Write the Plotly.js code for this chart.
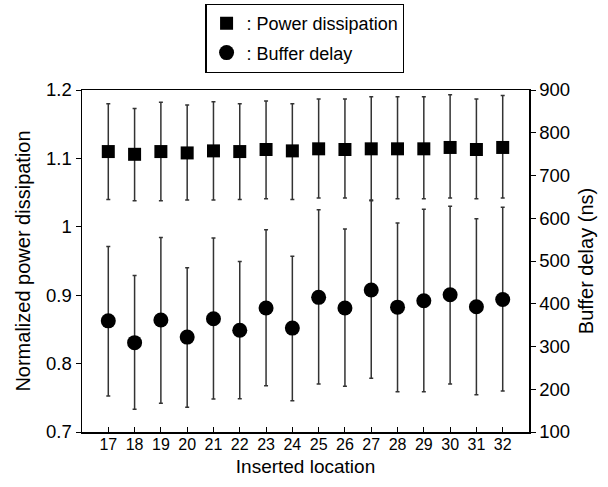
<!DOCTYPE html>
<html>
<head>
<meta charset="utf-8">
<script src="https://cdn.plot.ly/plotly-3.0.1.min.js"></script>
<style>html,body{margin:0;padding:0;background:#fff;}#chart{width:608px;height:487px;}</style>
</head>
<body>
<div id="chart"></div>
<script>
// Inserted locations
const locations = [17, 18, 19, 20, 21, 22, 23, 24, 25, 26, 27, 28, 29, 30, 31, 32];
const tickLabels = ["17","18","19","20","21","22","23","24","25","26","27","28","29","30","31","32"];

// Normalized power dissipation (left axis): mean, upper, lower
const powerMean  = [1.110, 1.106, 1.110, 1.108, 1.111, 1.110, 1.113, 1.111, 1.114, 1.113, 1.114, 1.114, 1.114, 1.116, 1.113, 1.116];
const powerUpper = [1.180, 1.173, 1.182, 1.178, 1.183, 1.180, 1.184, 1.180, 1.187, 1.187, 1.190, 1.190, 1.190, 1.193, 1.187, 1.192];
const powerLower = [1.040, 1.038, 1.038, 1.039, 1.039, 1.040, 1.041, 1.040, 1.042, 1.042, 1.039, 1.041, 1.041, 1.042, 1.041, 1.042];

// Buffer delay in ns (right axis): mean, upper, lower
const delayMean  = [360, 309, 362, 322, 365, 338, 390, 343, 415, 390, 432, 392, 407, 421, 393, 410];
const delayUpper = [534, 466, 555, 484, 554, 499, 573, 511, 620, 575, 641, 589, 621, 628, 599, 626];
const delayLower = [184, 153, 167, 158, 177, 178, 208, 173, 212, 207, 226, 194, 194, 212, 187, 196];

const FONT = "Liberation Sans, Arial, sans-serif";

const powerPlus  = powerUpper.map((u, i) => u - powerMean[i]);
const powerMinus = powerMean.map((m, i) => m - powerLower[i]);
const delayPlus  = delayUpper.map((u, i) => u - delayMean[i]);
const delayMinus = delayMean.map((m, i) => m - delayLower[i]);

const errStyle = {type: "data", symmetric: false, color: "#333", thickness: 1.5, width: 2};

const traces = [
  {
    x: locations, y: powerMean, type: "scatter", mode: "markers",
    name: ": Power dissipation", legendgroup: "a",
    marker: {symbol: "square", size: 13, color: "#000"},
    error_y: Object.assign({array: powerPlus, arrayminus: powerMinus}, errStyle),
    yaxis: "y"
  },
  {
    x: locations, y: delayMean, type: "scatter", mode: "markers",
    name: ": Buffer delay", legendgroup: "b",
    marker: {symbol: "circle", size: 15, color: "#000"},
    error_y: Object.assign({array: delayPlus, arrayminus: delayMinus}, errStyle),
    yaxis: "y2"
  }
];

const layout = {
  width: 608, height: 487,
  margin: {l: 81.5, r: 79, t: 90, b: 55, pad: 0, autoexpand: false},
  paper_bgcolor: "#fff", plot_bgcolor: "#fff",
  font: {family: FONT, size: 18, color: "#000"},
  showlegend: true,
  legend: {
    x: 0.276, xanchor: "left", y: 1.252, yanchor: "top",
    bordercolor: "#000", borderwidth: 1.2, bgcolor: "#fff",
    font: {family: FONT, size: 18, color: "#000"},
    traceorder: "grouped", tracegroupgap: 3,
    itemclick: false
  },
  xaxis: {
    range: [16, 33], tickmode: "array", tickvals: locations, ticktext: tickLabels,
    ticks: "inside", ticklen: 5, tickwidth: 1, tickcolor: "#000",
    showline: true, linecolor: "#000", linewidth: 1.5, mirror: true,
    showgrid: false, zeroline: false,
    tickfont: {family: FONT, size: 16},
    ticklabelstandoff: -3,
    title: {text: "Inserted location", font: {family: FONT, size: 19}, standoff: 8}
  },
  yaxis: {
    range: [0.7, 1.2], tickmode: "array",
    tickvals: [0.7, 0.8, 0.9, 1.0, 1.1, 1.2], ticktext: ["0.7", "0.8", "0.9", "1", "1.1", "1.2"],
    ticks: "outside", ticklen: 5, tickwidth: 1, tickcolor: "#000",
    showline: true, linecolor: "#000", linewidth: 1.5,
    showgrid: false, zeroline: false,
    tickfont: {family: FONT, size: 18.5},
    title: {text: "Normalized power dissipation", font: {family: FONT, size: 20}, standoff: 10}
  },
  yaxis2: {
    range: [100, 900], overlaying: "y", side: "right", tickmode: "array",
    tickvals: [100, 200, 300, 400, 500, 600, 700, 800, 900],
    ticks: "outside", ticklen: 5, tickwidth: 1, tickcolor: "#000",
    showline: true, linecolor: "#000", linewidth: 1.5,
    showgrid: false, zeroline: false,
    tickfont: {family: FONT, size: 18.5},
    title: {text: "Buffer delay (ns)", font: {family: FONT, size: 20}, standoff: 10}
  }
};

Plotly.newPlot("chart", traces, layout, {displayModeBar: false, staticPlot: true});
</script>
</body>
</html>
